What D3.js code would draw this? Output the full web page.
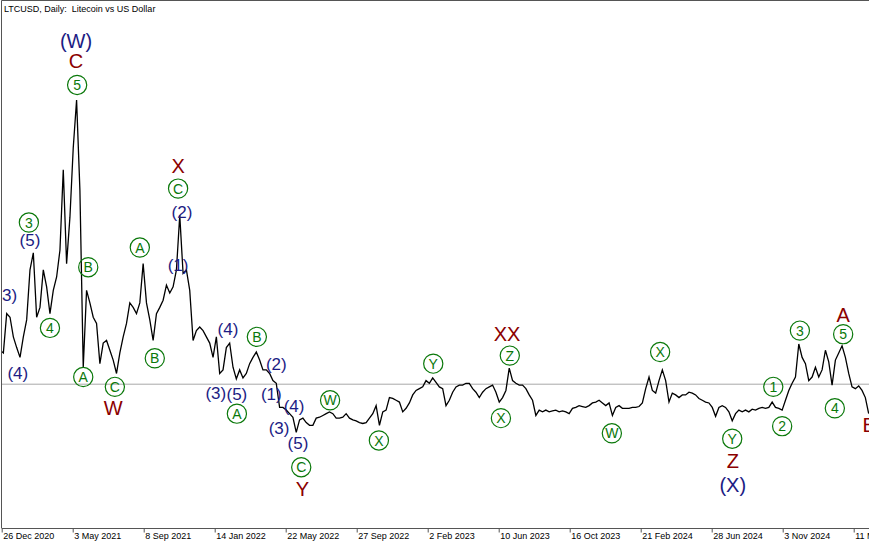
<!DOCTYPE html>
<html>
<head>
<meta charset="utf-8">
<script src="https://cdn.jsdelivr.net/npm/d3@7"></script>
<style>
  body { margin: 0; background: #fff; }
  svg { display: block; font-family: "Liberation Sans", Arial, sans-serif; }
</style>
</head>
<body>
<div id="chart"></div>
<script>
// chart data
var title = "LTCUSD, Daily:\u00a0 Litecoin vs US Dollar";
var seriesStart = "2020-12-23";
var stepDays = 6;
var closes = [
  131,128,172,168,146,134,123,146,165,221,
  240,168,179,221,202,172,198,213,243,333,
  228,280,358,411,310,112,198,184,168,161,
  116,139,142,131,120,105,128,146,161,184,
  179,172,184,228,184,165,142,172,179,187,
  204,195,202,221,282,217,221,198,142,153,
  157,153,146,139,123,146,105,109,134,139,
  112,99,109,100,105,116,123,129,120,109,
  109,105,97,94,67,67,64,60,56,39,
  53,55,50,47,47,55,56,58,60,62,
  60,55,55,56,60,55,53,52,50,49,
  50,55,60,69,47,62,64,78,77,75,
  73,62,66,72,81,86,88,90,97,94,
  100,95,90,88,69,75,84,90,92,92,
  94,94,88,84,78,84,88,90,92,84,
  73,78,86,111,97,94,92,92,88,81,
  75,58,64,62,64,62,63,64,62,63,
  62,60,66,67,69,68,67,69,72,73,
  75,72,69,72,58,67,69,66,66,66,
  67,67,68,72,88,101,86,83,97,109,
  97,73,83,81,78,81,81,84,83,81,
  77,75,73,72,67,57,67,69,67,62,
  52,60,64,62,64,62,65,64,66,67,
  66,67,73,67,66,64,75,86,94,101,
  138,123,116,97,101,112,101,109,131,118,
  92,120,128,136,123,105,90,88,91,86,
  78,60
];
var levelPrice = 93;

var tickDates = ["2020-12-26","2021-05-03","2021-09-08","2022-01-14","2022-05-22","2022-09-27",
  "2023-02-02","2023-06-10","2023-10-16","2024-02-21","2024-06-28","2024-11-03","2025-03-11"];
var tickLabels = ["26 Dec 2020","3 May 2021","8 Sep 2021","14 Jan 2022","22 May 2022","27 Sep 2022",
  "2 Feb 2023","10 Jun 2023","16 Oct 2023","21 Feb 2024","28 Jun 2024","3 Nov 2024","11 Mar 2025"];

// wave labels: N = big navy, n = navy, r = dark red, g = green circled
var waveText = ["(W)","C","5","X","C","(3)","(5)","3","4","(4)","B","A","C","W","A","B",
  "(2)","(1)","(4)","B","(2)","(3)","(5)","A","(1)","(4)","(3)","(5)","C","Y","W","X",
  "Y","XX","Z","X","W","X","Y","Z","(X)","1","2","3","A","5","4","B"];
var waveKind = ["N","r","g","r","g","n","n","g","g","n","g","g","g","r","g","g",
  "n","n","n","g","n","n","n","g","n","n","n","n","g","r","g","g",
  "g","r","g","g","g","g","g","r","N","g","g","g","r","g","g","r"];
var waveDate = ["2021-05-09","2021-05-09","2021-05-11","2021-11-09","2021-11-09","2021-01-04",
  "2021-02-15","2021-02-13","2021-03-23","2021-01-24","2021-05-31","2021-05-22","2021-07-18",
  "2021-07-15","2021-09-01","2021-09-28","2021-11-16","2021-11-09","2022-02-07","2022-03-31",
  "2022-05-05","2022-01-16","2022-02-23","2022-02-23","2022-04-26","2022-06-06","2022-05-10",
  "2022-06-13","2022-06-19","2022-06-21","2022-08-10","2022-11-06","2023-02-12","2023-06-25",
  "2023-06-30","2023-06-14","2023-12-31","2024-03-27","2024-08-04","2024-08-05","2024-08-05",
  "2024-10-17","2024-11-02","2024-12-04","2025-02-20","2025-02-20","2025-02-05","2025-04-08"];
var wavePrice = [477,455,428,338,312,193,255,274,156,106,224,101,90,67,246,122,
  286,227,155,146,116,83,82,60,82,69,44,27,0,-24,75,30,
  116,149,125,55,38,129,32,7,-20,90,46,153,171,149,66,48];

var svgWidth = 869;
var svgHeight = 545;
var parseDate = d3.utcParse("%Y-%m-%d");

var svg = d3.select("#chart")
  .append("svg")
  .attr("width", svgWidth)
  .attr("height", svgHeight);

svg.append("rect")
  .attr("width", svgWidth)
  .attr("height", svgHeight)
  .attr("fill", "#fff");

var plotBottom = 528;

var xScale = d3.scaleUtc()
  .domain([parseDate(tickDates[0]), parseDate(tickDates[tickDates.length - 1])])
  .range([1.7, 853.7]);

var yScale = d3.scaleLinear()
  .domain([-68, 522])
  .range([plotBottom, 1]);

svg.append("clipPath")
  .attr("id", "plotClip")
  .append("rect")
  .attr("x", 1.7)
  .attr("y", 1)
  .attr("width", svgWidth - 1.7)
  .attr("height", plotBottom - 1);

var plot = svg.append("g").attr("clip-path", "url(#plotClip)");

// horizontal level line
plot.append("line")
  .attr("x1", 0)
  .attr("x2", svgWidth)
  .attr("y1", yScale(levelPrice))
  .attr("y2", yScale(levelPrice))
  .attr("stroke", "#a8a8a8")
  .attr("stroke-width", 1);

// price line
var start = parseDate(seriesStart);
var series = closes.map(function (v, i) {
  return { date: d3.utcDay.offset(start, i * stepDays), value: v };
});

var line = d3.line()
  .x(function (d) { return xScale(d.date); })
  .y(function (d) { return yScale(d.value); });

plot.append("path")
  .datum(series)
  .attr("d", line)
  .attr("fill", "none")
  .attr("stroke", "#000")
  .attr("stroke-width", 1.3)
  .attr("stroke-linejoin", "miter");

// wave labels
var colours = { N: "#1c1c84", n: "#1c1c84", r: "#8b0000", g: "#0a780a" };
var sizes = { N: 20, n: 17, r: 20, g: 14 };

var labels = plot.selectAll("g.wave")
  .data(waveText.map(function (t, i) {
    return { text: t, kind: waveKind[i], date: parseDate(waveDate[i]), price: wavePrice[i] };
  }))
  .enter()
  .append("g")
  .attr("class", "wave")
  .attr("transform", function (d) {
    return "translate(" + xScale(d.date) + "," + yScale(d.price) + ")";
  });

labels.filter(function (d) { return d.kind === "g"; })
  .append("circle")
  .attr("r", 9.6)
  .attr("fill", "none")
  .attr("stroke", colours.g)
  .attr("stroke-width", 1.2);

labels.append("text")
  .attr("text-anchor", "middle")
  .attr("dy", "0.36em")
  .attr("fill", function (d) { return colours[d.kind]; })
  .style("font-size", function (d) { return sizes[d.kind] + "px"; })
  .text(function (d) { return d.text; });

// frame
svg.append("line")
  .attr("x1", 1.5).attr("x2", 1.5)
  .attr("y1", 0.5).attr("y2", plotBottom)
  .attr("stroke", "#555");
svg.append("line")
  .attr("x1", 1.5).attr("x2", svgWidth)
  .attr("y1", 0.5).attr("y2", 0.5)
  .attr("stroke", "#555");
svg.append("line")
  .attr("x1", 1.5).attr("x2", svgWidth)
  .attr("y1", plotBottom + 0.5).attr("y2", plotBottom + 0.5)
  .attr("stroke", "#555");

// time axis
var bottomAxis = d3.axisBottom(xScale)
  .tickValues(tickDates.map(parseDate))
  .tickFormat(function (d, i) { return tickLabels[i]; })
  .tickSize(4)
  .tickSizeOuter(0);

var axisG = svg.append("g")
  .attr("transform", "translate(0," + (plotBottom + 0.5) + ")")
  .call(bottomAxis);

axisG.select(".domain").remove();
axisG.selectAll(".tick line").attr("stroke", "#555");
axisG.selectAll(".tick text")
  .attr("text-anchor", "start")
  .attr("x", 1)
  .attr("y", 4)
  .attr("dy", "0.71em")
  .attr("fill", "#000")
  .style("font-family", "'Liberation Sans', Arial, sans-serif")
  .style("font-size", "9px");

// title
svg.append("text")
  .attr("x", 4)
  .attr("y", 12)
  .attr("fill", "#000")
  .style("font-size", "9px")
  .text(title);
</script>
</body>
</html>
